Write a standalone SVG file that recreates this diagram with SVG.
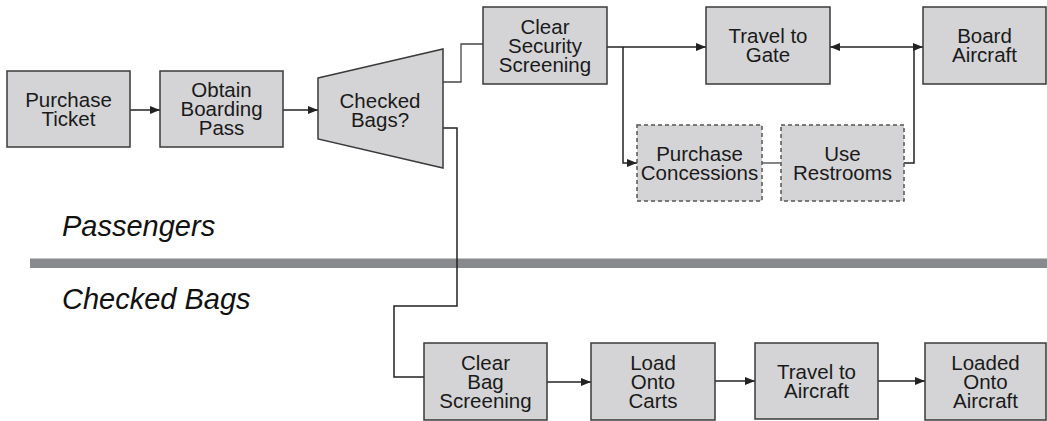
<svg xmlns="http://www.w3.org/2000/svg" width="1047" height="421" viewBox="0 0 1047 421">
  <style>
    .box { fill: #d4d4d6; stroke: #3a3a3a; stroke-width: 1.5; }
    .opt { fill: #d4d4d6; stroke: #555; stroke-width: 1.5; stroke-dasharray: 4 3; }
    .lbl { font-family: "Liberation Sans", Arial, sans-serif; font-size: 20.5px; fill: #1a1a1a; text-anchor: middle; }
    .lane { font-family: "Liberation Sans", Arial, sans-serif; font-size: 29px; font-style: italic; fill: #111; }
    .edge { fill: none; stroke: #222; stroke-width: 1.5; }
    .thin { fill: none; stroke: #444; stroke-width: 1.3; }
  </style>
  <defs>
    <marker id="arrow" viewBox="0 0 10 8" refX="10" refY="4" markerWidth="10" markerHeight="8" markerUnits="userSpaceOnUse" orient="auto">
      <path d="M0,0 L10,4 L0,8 z" fill="#222"/>
    </marker>
    <marker id="arrowStart" viewBox="0 0 10 8" refX="0" refY="4" markerWidth="10" markerHeight="8" markerUnits="userSpaceOnUse" orient="auto">
      <path d="M10,0 L0,4 L10,8 z" fill="#222"/>
    </marker>
  </defs>

  <rect width="1047" height="421" fill="#fff"/>

  <!-- swimlane divider and lane titles -->
  <rect x="30" y="258.5" width="1017" height="9.5" fill="#898a8d"/>
  <text class="lane" x="62" y="236">Passengers</text>
  <text class="lane" x="62" y="309">Checked Bags</text>

  <g id="connectors">
    <line class="edge" x1="130" y1="110" x2="160" y2="110" marker-end="url(#arrow)"/>
    <line class="edge" x1="283" y1="110" x2="318" y2="110" marker-end="url(#arrow)"/>
    <polyline class="thin" points="443,82 461,82 461,44 483,44"/>
    <line class="edge" x1="607" y1="47" x2="706" y2="47" marker-end="url(#arrow)"/>
    <polyline class="edge" points="623,47 623,163 637,163" marker-end="url(#arrow)"/>
    <line class="thin" x1="762" y1="163" x2="781" y2="163"/>
    <polyline class="edge" points="904,163 914,163 914,47"/>
    <line class="edge" x1="830" y1="47" x2="923" y2="47" marker-start="url(#arrowStart)" marker-end="url(#arrow)"/>
    <polyline class="edge" points="443,128 457,128 457,306 394,306 394,377 424,377"/>
    <line class="edge" x1="547" y1="382" x2="591" y2="382" marker-end="url(#arrow)"/>
    <line class="edge" x1="715" y1="381" x2="755" y2="381" marker-end="url(#arrow)"/>
    <line class="edge" x1="878" y1="381" x2="925" y2="381" marker-end="url(#arrow)"/>
  </g>

  <g id="purchase-ticket">
    <rect class="box" x="7" y="71" width="123" height="76"/>
    <text class="lbl" x="68.5" y="106.5">Purchase<tspan x="68.5" dy="19">Ticket</tspan></text>
  </g>
  <g id="obtain-boarding-pass">
    <rect class="box" x="160" y="71" width="123" height="76"/>
    <text class="lbl" x="221.5" y="97">Obtain<tspan x="221.5" dy="19">Boarding</tspan><tspan x="221.5" dy="19">Pass</tspan></text>
  </g>
  <g id="checked-bags-decision">
    <polygon class="box" points="318,78 443,49 443,168 318,139"/>
    <text class="lbl" x="380" y="107.5">Checked<tspan x="380" dy="19">Bags?</tspan></text>
  </g>
  <g id="clear-security">
    <rect class="box" x="483" y="7" width="124" height="77"/>
    <text class="lbl" x="545" y="33.5">Clear<tspan x="545" dy="19">Security</tspan><tspan x="545" dy="19">Screening</tspan></text>
  </g>
  <g id="travel-to-gate">
    <rect class="box" x="706" y="7" width="124" height="77"/>
    <text class="lbl" x="768" y="43">Travel to<tspan x="768" dy="19">Gate</tspan></text>
  </g>
  <g id="board-aircraft">
    <rect class="box" x="923" y="7" width="123" height="77"/>
    <text class="lbl" x="984.5" y="43">Board<tspan x="984.5" dy="19">Aircraft</tspan></text>
  </g>
  <g id="purchase-concessions">
    <rect class="opt" x="637" y="125" width="125" height="76"/>
    <text class="lbl" x="699.5" y="160.5">Purchase<tspan x="699.5" dy="19">Concessions</tspan></text>
  </g>
  <g id="use-restrooms">
    <rect class="opt" x="781" y="125" width="123" height="76"/>
    <text class="lbl" x="842.5" y="160.5">Use<tspan x="842.5" dy="19">Restrooms</tspan></text>
  </g>
  <g id="clear-bag-screening">
    <rect class="box" x="424" y="343" width="123" height="77"/>
    <text class="lbl" x="485.5" y="369.5">Clear<tspan x="485.5" dy="19">Bag</tspan><tspan x="485.5" dy="19">Screening</tspan></text>
  </g>
  <g id="load-onto-carts">
    <rect class="box" x="591" y="343" width="124" height="77"/>
    <text class="lbl" x="653" y="369.5">Load<tspan x="653" dy="19">Onto</tspan><tspan x="653" dy="19">Carts</tspan></text>
  </g>
  <g id="travel-to-aircraft">
    <rect class="box" x="755" y="343" width="123" height="76"/>
    <text class="lbl" x="816.5" y="378.5">Travel to<tspan x="816.5" dy="19">Aircraft</tspan></text>
  </g>
  <g id="loaded-onto-aircraft">
    <rect class="box" x="925" y="343" width="121" height="77"/>
    <text class="lbl" x="985.5" y="369.5">Loaded<tspan x="985.5" dy="19">Onto</tspan><tspan x="985.5" dy="19">Aircraft</tspan></text>
  </g>
</svg>
